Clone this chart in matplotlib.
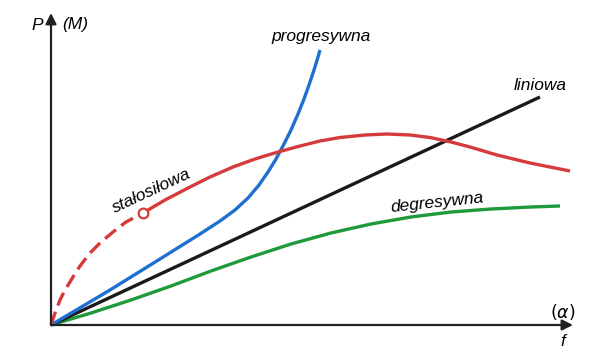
import numpy as np
import matplotlib
matplotlib.use('Agg')
import matplotlib.pyplot as plt

lin_x = [0, 489]
lin_y = [0, 228]

prog_x = [0, 59, 109, 149, 169, 184, 197, 208, 217, 225, 233, 240, 247, 253, 258, 263, 267, 269]
prog_y = [0, 35, 66, 91, 104, 115, 127, 140, 153, 166, 181, 195, 211, 226, 240, 255, 268, 275]

degr_x = [0, 40, 80, 120, 160, 200, 240, 280, 320, 360, 400, 440, 480, 509]
degr_y = [0, 12, 25, 39, 54, 68, 81, 92, 101, 108, 113, 116, 118, 119]

stal_dash_x = [0, 4, 9, 14, 22, 29, 39, 49, 62, 75, 92]
stal_dash_y = [0, 12, 25, 35, 48, 59, 72, 82, 93, 103, 112]
stal_x = [92, 114, 139, 159, 182, 204, 227, 249, 269, 289, 314, 336, 359, 379, 400, 419,
          446, 479, 519]
stal_y = [112, 125, 138, 148, 158, 166, 173, 179, 184, 187.5, 190, 191, 190, 187.5, 183, 178,
          170, 162, 154]

red = '#d63a3a'
blue = '#1f6fd0'
green = '#1f9a3a'
black = '#1a1a1a'

plt.rcParams['font.family'] = ['Liberation Sans', 'DejaVu Sans']

fig = plt.figure(figsize=(6, 3.6), dpi=100)
ax = fig.add_axes([0, 0, 1, 1])
ax.set_xlim(-51, 549)
ax.set_ylim(-35, 325)
ax.axis('off')

# axes with arrows
ax.annotate('', xy=(0, 312), xytext=(0, 0),
            arrowprops=dict(arrowstyle='-|>', lw=1.6, color='#222222', mutation_scale=16,
                            shrinkA=0, shrinkB=0))
ax.annotate('', xy=(522, 0), xytext=(0, 0),
            arrowprops=dict(arrowstyle='-|>', lw=1.6, color='#222222', mutation_scale=16,
                            shrinkA=0, shrinkB=0))

lw = 2.4
ax.plot(degr_x, degr_y, color=green, lw=lw, solid_capstyle='butt', solid_joinstyle='round')
ax.plot(lin_x, lin_y, color=black, lw=lw, solid_capstyle='butt')
ax.plot(prog_x, prog_y, color=blue, lw=lw, solid_capstyle='butt', solid_joinstyle='round')
ax.plot(stal_dash_x, stal_dash_y, color=red, lw=lw, dashes=(4.2, 2.0), dash_capstyle='butt')
ax.plot(stal_x, stal_y, color=red, lw=lw, solid_capstyle='butt', solid_joinstyle='round')
ax.plot([stal_x[0]], [stal_y[0]], 'o', ms=7, mfc='white', mec=red, mew=1.6, zorder=5)

fs = 12.5
ax.text(-14, 300, 'P', fontsize=fs, style='italic', ha='center', va='center')
ax.text(24, 300, '(M)', fontsize=fs, style='italic', ha='center', va='center')
ax.text(512, 13, r'$(\alpha)$', fontsize=fs, ha='center', va='center')
ax.text(512, -17, 'f', fontsize=fs, style='italic', ha='center', va='center')
ax.text(270, 288, 'progresywna', fontsize=fs, style='italic', ha='center', va='center')
ax.text(489, 240, 'liniowa', fontsize=fs, style='italic', ha='center', va='center')
ax.text(386, 122, 'degresywna', fontsize=fs, style='italic', ha='center', va='center',
        rotation=6)
ax.text(101, 134, 'stałosiłowa', fontsize=fs, style='italic', ha='center', va='center',
        rotation=25)

fig.savefig('out.png', dpi=100)
